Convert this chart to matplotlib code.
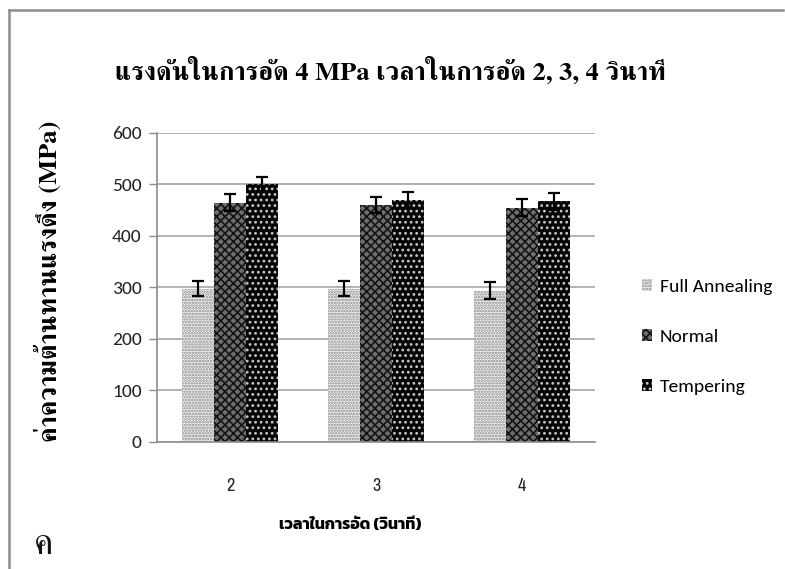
import matplotlib
matplotlib.use('Agg')
import matplotlib.pyplot as plt
from matplotlib.lines import Line2D
import numpy as np

# data
times = ['2', '3', '4']
full_annealing = [298, 298, 294]
normal = [465, 460, 455]
tempering = [500, 470, 467]
err_fa = [15, 15, 16]
err_normal = [16, 16, 16]
err_temp = [15, 16, 16]

title = 'แรงดันในการอัด 4 MPa เวลาในการอัด 2, 3, 4 วินาที'
ylabel = 'ค่าความต้านทานแรงดึง (MPa)'
xlabel = 'เวลาในการอัด (วินาที)'

plt.rcParams['hatch.linewidth'] = 1.2

fig = plt.figure(figsize=(7.85, 5.69), dpi=100)
ax = fig.add_axes([0.200, 0.2232, 0.558, 0.5431])

x = np.arange(len(times))
w = 0.22
series = [
    (full_annealing, err_fa, 'Full Annealing', '#f0f0f0', '#8a8a8a', '......'),
    (normal, err_normal, 'Normal', '#6e6e6e', '#141414', 'xxxx'),
    (tempering, err_temp, 'Tempering', '#050505', '#c8c8c8', '...'),
]
handles = []
for i, (vals, errs, lab, fc, hc, hatch) in enumerate(series):
    b = ax.bar(x + (i - 1) * w, vals, w, color=fc, edgecolor=hc, hatch=hatch,
               linewidth=0, label=lab, zorder=2)
    ax.errorbar(x + (i - 1) * w, vals, yerr=errs, fmt='none', ecolor='black',
                elinewidth=1.6, capsize=4, capthick=1.6, zorder=3)
    handles.append(b)

ax.set_xlim(-0.5, 2.5)
ax.set_ylim(0, 600)
ax.set_yticks(range(0, 601, 100))
ax.set_xticks(x)
ax.set_xticklabels(times, fontfamily='Archivo Narrow', fontsize=13)
for t in ax.get_yticklabels():
    t.set_fontfamily('Carlito')
    t.set_fontsize(14)
ax.tick_params(axis='y', length=6, width=1, color='#8c8c8c', pad=5, labelcolor='#222222')
ax.tick_params(axis='x', length=0, pad=26, labelcolor='#222222')
ax.grid(axis='y', color='#a6a6a6', linewidth=1.2, zorder=0)
ax.set_axisbelow(True)
for s in ['top', 'right']:
    ax.spines[s].set_visible(False)
for s in ['left', 'bottom']:
    ax.spines[s].set_color('#8c8c8c')
    ax.spines[s].set_linewidth(1.2)

fig.text(0.497, 0.877, title, ha='center', va='center', fontfamily=['FreeSerif'],
         fontweight='bold', fontsize=19)
fig.text(0.061, 0.505, ylabel, ha='center', va='center', rotation=90,
         fontfamily=['FreeSerif'], fontweight='bold', fontsize=19)
fig.text(0.446, 0.077, xlabel, ha='center', va='center',
         fontfamily=['Kanit', 'DejaVu Sans'], fontweight='bold', fontsize=11.5)
fig.text(0.056, 0.042, 'ค', ha='center', va='center',
         fontfamily=['FreeSerif'], fontsize=26, color='#111111')

fig.legend(handles=handles, loc='center left', bbox_to_anchor=(0.795, 0.408),
           frameon=False, prop={'family': 'Carlito', 'size': 14},
           handlelength=0.55, handleheight=0.55, handletextpad=0.4, labelspacing=1.75)

# frame: only the left and top edges show in the picture
fig.add_artist(Line2D([0.0115, 0.0115], [0.0, 0.9825], transform=fig.transFigure,
                      color='#8c8c8c', linewidth=1.8))
fig.add_artist(Line2D([0.0115, 0.9975], [0.9825, 0.9825], transform=fig.transFigure,
                      color='#8c8c8c', linewidth=1.8))

fig.savefig('out.png', dpi=100)
